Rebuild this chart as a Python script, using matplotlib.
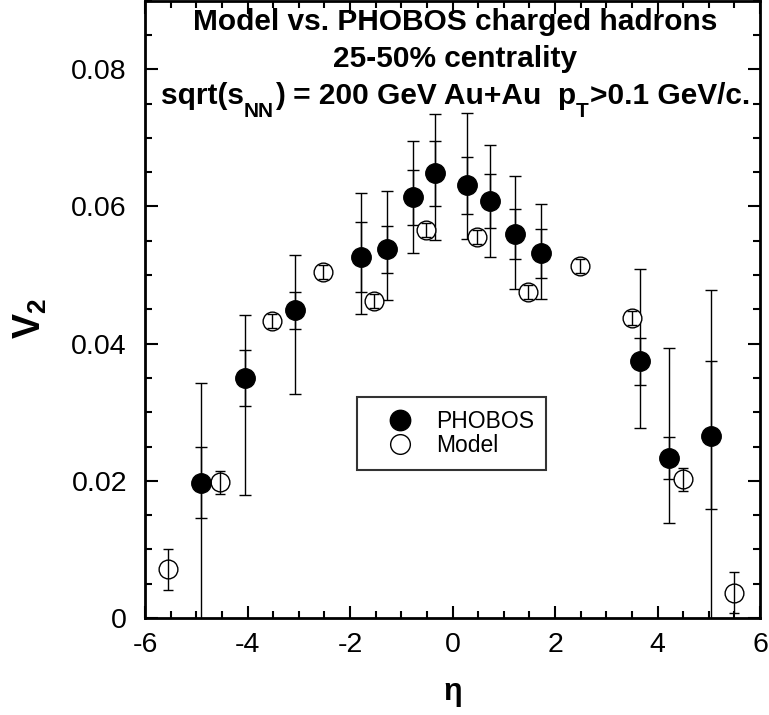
import numpy as np
import matplotlib as mpl
mpl.use('Agg')
import matplotlib.pyplot as plt
from matplotlib.ticker import MultipleLocator, FuncFormatter
from matplotlib.transforms import IdentityTransform

# PHOBOS charged hadrons, 25-50% centrality (eta, v2, stat and total errors)
phobos_eta = [-4.9, -4.05, -3.08, -1.78, -1.28, -0.78, -0.34, 0.28, 0.73, 1.21, 1.73, 3.66, 4.23, 5.04]
phobos_v2 = [0.0197, 0.0350, 0.0449, 0.0526, 0.0538, 0.0614, 0.0649, 0.0631, 0.0608, 0.0560, 0.0532, 0.0374, 0.0233, 0.0266]
stat_lo = [0.0051, 0.0041, 0.0027, 0.0051, 0.0035, 0.0041, 0.0048, 0.0042, 0.0040, 0.0036, 0.0036, 0.0034, 0.0031, 0.0107]
stat_hi = [0.0052, 0.0041, 0.0026, 0.0051, 0.0033, 0.0039, 0.0046, 0.0041, 0.0040, 0.0036, 0.0035, 0.0034, 0.0031, 0.0108]
tot_lo = [0.0250, 0.0170, 0.0123, 0.0083, 0.0074, 0.0082, 0.0098, 0.0079, 0.0081, 0.0081, 0.0067, 0.0097, 0.0095, 0.0300]
tot_hi = [0.0145, 0.0092, 0.0080, 0.0093, 0.0085, 0.0081, 0.0086, 0.0105, 0.0082, 0.0084, 0.0072, 0.0135, 0.0160, 0.0212]

# model
model_eta = [-5.55, -4.54, -3.53, -2.53, -1.53, -0.52, 0.47, 1.48, 2.49, 3.50, 4.49, 5.50]
model_v2 = [0.0071, 0.0198, 0.0433, 0.0504, 0.0462, 0.0566, 0.0556, 0.0475, 0.0513, 0.0437, 0.0202, 0.0037]
model_err = [0.0030, 0.0017, 0.0010, 0.0010, 0.0010, 0.0010, 0.0010, 0.0010, 0.0010, 0.0010, 0.0017, 0.0030]

title_lines = ['Model vs. PHOBOS charged hadrons', '25-50% centrality']
# third line: (text, is_subscript)
title_pieces = [('sqrt(s', False), ('NN', True), (') = 200 GeV Au+Au  p', False),
                ('T', True), ('>0.1 GeV/c.', False)]

mpl.rcParams['axes.unicode_minus'] = False
mpl.rcParams['font.family'] = ['Liberation Sans', 'DejaVu Sans']
mpl.rcParams['mathtext.default'] = 'regular'

fig = plt.figure(figsize=(7.69, 7.15), dpi=100)
ax = fig.add_axes([0.1886, 0.1357, 0.7997, 0.8633])

ax.errorbar(phobos_eta, phobos_v2, yerr=[tot_lo, tot_hi], fmt='none', ecolor='k',
            elinewidth=1.0, capsize=4, capthick=1.0, zorder=2)
ax.errorbar(phobos_eta, phobos_v2, yerr=[stat_lo, stat_hi], fmt='none', ecolor='k',
            elinewidth=1.0, capsize=4, capthick=1.0, zorder=2)
ax.plot(phobos_eta, phobos_v2, 'o', color='k', markersize=14, zorder=4, label='PHOBOS')

ax.plot(model_eta, model_v2, 'o', markerfacecolor='white', markeredgecolor='k',
        markeredgewidth=1.0, markersize=13.5, zorder=3, label='Model')
ax.errorbar(model_eta, model_v2, yerr=model_err, fmt='none', ecolor='k',
            elinewidth=1.0, capsize=3.5, capthick=1.0, zorder=3.5)

ax.set_xlim(-6, 6)
ax.set_ylim(0, 0.09)
ax.xaxis.set_major_locator(MultipleLocator(2))
ax.xaxis.set_minor_locator(MultipleLocator(0.5))
ax.yaxis.set_major_locator(MultipleLocator(0.02))
ax.yaxis.set_minor_locator(MultipleLocator(0.005))
ax.yaxis.set_major_formatter(FuncFormatter(lambda v, p: '0' if abs(v) < 1e-9 else '%.2f' % v))
ax.tick_params(which='both', direction='in', top=True, right=True, width=1.5)
ax.tick_params(which='major', length=9, labelsize=20.5)
ax.tick_params(axis='x', which='major', pad=10)
ax.tick_params(axis='y', which='major', pad=13)
ax.tick_params(which='minor', length=5)
for s in ax.spines.values():
    s.set_linewidth(2)

ax.set_xlabel('η', fontsize=22, fontweight='bold')
ax.xaxis.set_label_coords(0.5, -0.095)
ax.set_ylabel(r'V$_{\mathregular{2}}$', fontsize=27, fontweight='bold')
ax.yaxis.set_label_coords(-0.156, 0.485)

tsize = 21.5
ax.text(0.504, 0.953, title_lines[0], transform=ax.transAxes, ha='center',
        va='baseline', fontsize=tsize, fontweight='bold')
ax.text(0.504, 0.893, title_lines[1], transform=ax.transAxes, ha='center',
        va='baseline', fontsize=tsize, fontweight='bold')

# third line built piece by piece so the subscripts sit low like the original
renderer = fig.canvas.get_renderer()
base_disp = ax.transAxes.transform((0.505, 0.833))
texts = []
xcur = 0.0
for s, sub in title_pieces:
    size = 15 if sub else tsize
    dy = -13 if sub else 0
    t = fig.text(xcur, base_disp[1] + dy, s, transform=IdentityTransform(),
                 ha='left', va='baseline', fontsize=size, fontweight='bold')
    w = t.get_window_extent(renderer).width
    texts.append((t, xcur))
    xcur += w + (1 if sub else 0)
x0 = base_disp[0] - xcur / 2
for t, xo in texts:
    t.set_x(x0 + xo)

leg = ax.legend(loc='center', bbox_to_anchor=(0.499, 0.299), fontsize=16.5, frameon=True,
                fancybox=False, edgecolor='k', handletextpad=0.22, borderpad=0.55,
                labelspacing=0.05, handlelength=2.65, borderaxespad=0, markerscale=1.05)
leg.get_frame().set_linewidth(1.5)

fig.savefig('out.png', dpi=100)
